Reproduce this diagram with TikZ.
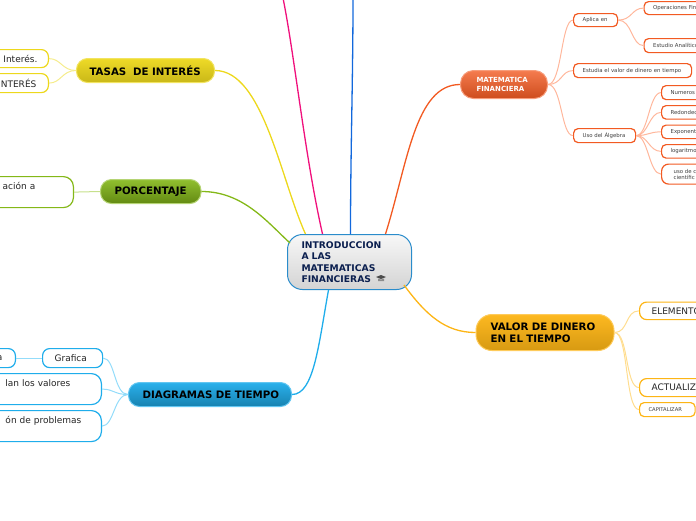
\documentclass[tikz,border=0pt]{standalone}
\usepackage{fontspec}
\setmainfont{DejaVu Sans}
\definecolor{azulcentro}{HTML}{2A8CCB}
\definecolor{tinta}{HTML}{0B1F4F}
\definecolor{naranja}{HTML}{F25A22}
\definecolor{naranjaclaro}{HTML}{FFB79C}
\definecolor{oro}{HTML}{FDB515}
\definecolor{oroclaro}{HTML}{FFDD8F}
\definecolor{amarillo}{HTML}{EDD81C}
\definecolor{amarilloclaro}{HTML}{F5EC8C}
\definecolor{verde}{HTML}{84B818}
\definecolor{verdeclaro}{HTML}{C6E08C}
\definecolor{celeste}{HTML}{1FADEB}
\definecolor{celesteclaro}{HTML}{93DCFA}
\definecolor{rosa}{HTML}{F0107C}
\definecolor{azul}{HTML}{1268DC}
\tikzset{
  tema/.style n args={3}{rounded corners=11pt, draw=#1, line width=1pt,
    top color=#2, bottom color=#3, inner xsep=0pt, inner ysep=0pt, anchor=north west,
    align=left, font=\fontsize{10.25}{12}\selectfont\bfseries, text=black},
  caja/.style={draw=#1, fill=white, line width=1.2pt, rounded corners=4.5pt, inner xsep=0pt,
    inner ysep=0pt, align=left, font=\fontsize{5.4}{7}\selectfont, text=black!75},
  cajagrande/.style={caja=#1, rounded corners=7pt, font=\fontsize{9}{12}\selectfont, text=black!85},
  rama/.style={draw=#1, line width=1.3pt},
  ramita/.style={draw=#1, line width=1pt}
}
\begin{document}
\begin{tikzpicture}[x=1pt, y=-1pt]
  \useasboundingbox (0,0) rectangle (696,520);
  \clip (0,0) rectangle (696,520);
  % extremos libres de las ramas de arriba
  \coordinate (finrosa) at (283,-2);
  \coordinate (finazul) at (353,-2);
  % el centro
  \node[draw=azulcentro, line width=1pt, rounded corners=15pt, top color=black!3, bottom color=black!17,
    anchor=north west, minimum width=124pt, minimum height=55pt, inner xsep=14pt, inner ysep=0pt,
    text width=96pt, align=left, text=tinta, font=\fontsize{9.2}{11.4}\selectfont\bfseries]
    (centro) at (287,234) {INTRODUCCION\\A LAS\\MATEMATICAS\\FINANCIERAS};
  % el birrete
  \fill[black!70] (376,277) -- (381,275) -- (386,277) -- (381,279) -- cycle;
  \fill[black!45] (378,278.5) -- (381,279.6) -- (384,278.5) -- (384,281) -- (378,281) -- cycle;
  % los temas
  \node[tema={naranja!60}{naranja!80!white}{naranja!85!black}, rounded corners=13pt, minimum width=87pt, minimum height=28pt,
    text width=87pt, text=white, font=\fontsize{7}{8.2}\selectfont\bfseries]
    (mate) at (460,70) {\hspace*{16pt}MATEMATICA\\\hspace*{16pt}FINANCIERA};
  \node[tema={oro!70}{oro!95}{oro!85!black}, rounded corners=16pt, minimum width=138pt, minimum height=36pt, text width=138pt]
    (valor) at (475.5,314) {\hspace*{14.5pt}VALOR DE DINERO\\\hspace*{14.5pt}EN EL TIEMPO};
  \node[tema={amarillo!70}{amarillo!95}{amarillo!85!black}, minimum width=138pt, minimum height=24pt, text width=138pt]
    (tasas) at (76,58) {\hspace*{13pt}TASAS\ \ DE INTERÉS};
  \node[tema={verde!60}{verde!90}{verde!75!black}, minimum width=100.5pt, minimum height=24pt, text width=100.5pt]
    (porcentaje) at (100,179) {\hspace*{14pt}PORCENTAJE};
  \node[tema={celeste!70}{celeste!95}{celeste!75!black}, minimum width=163pt, minimum height=24pt, text width=163pt]
    (diagramas) at (128,382) {\hspace*{14pt}DIAGRAMAS DE TIEMPO};
  % hojas de matematica financiera
  \foreach \nombre/\x/\y/\ancho/\alto/\texto in {
      aplica/573/13/44/13/Aplica en,
      estudia/573/63/118/14/Estudia el valor de dinero en tiempo,
      algebra/573/128/62/14/Uso del Álgebra,
      opera/643.5/1/70/13/Operaciones Fin,
      analitico/643.5/38/70/14/Estudio Analítico,
      numeros/661/85/60/14/Numeros,
      redondeo/661/105/60/13.5/Redondeo,
      expo/661/124.5/60/13.5/Exponent,
      loga/661/144/60/13.5/logaritmo}
    \node[caja=naranja, anchor=north west, minimum width=\ancho pt, minimum height=\alto pt,
      text width=\ancho pt] (\nombre) at (\x,\y) {\hspace*{9pt}\texto};
  \node[caja=naranja, rounded corners=7pt, anchor=north west, minimum width=60pt, minimum height=20pt,
    text width=60pt, font=\fontsize{5.4}{6.2}\selectfont] (cientifica) at (661,163.5)
    {\hspace*{12pt}uso de c\\\hspace*{12pt}científic};
  % hojas de valor de dinero
  \node[cajagrande=oro, anchor=north west, minimum width=80pt, minimum height=17.5pt, text width=80pt]
    (elementos) at (639,301.5) {\hspace*{12pt}ELEMENTO};
  \node[cajagrande=oro, anchor=north west, minimum width=80pt, minimum height=18pt, text width=80pt]
    (actualiz) at (639,378) {\hspace*{12pt}ACTUALIZ};
  \node[caja=oro, anchor=north west, minimum width=55.5pt, minimum height=14pt, text width=55.5pt,
    font=\fontsize{5.2}{6}\selectfont] (capital) at (639,402) {\hspace*{9pt}CAPITALIZAR};
  % hojas de la izquierda, cortadas por el borde
  \node[cajagrande=amarillo, anchor=north east, minimum width=80pt, minimum height=18pt, text width=80pt,
    align=right] (interes) at (49,49) {Interés.\hspace*{11pt}\mbox{}};
  \node[cajagrande=amarillo, anchor=north east, minimum width=80pt, minimum height=19pt, text width=80pt,
    align=right] (interesdos) at (49,73) {NTERÉS\hspace*{12pt}\mbox{}};
  \node[cajagrande=verde, rounded corners=10pt, anchor=north east, minimum width=110pt, minimum height=31pt,
    text width=110pt, align=right] (aplicacion) at (74,176) {ación a\hspace*{38pt}\mbox{}\\\ };
  \node[cajagrande=celeste, anchor=north west, minimum width=60pt, minimum height=19pt, text width=60pt]
    (grafica) at (42,348) {\hspace*{12pt}Grafica};
  \node[cajagrande=celeste, anchor=north east, minimum width=60pt, minimum height=19pt, text width=60pt,
    align=right] (grafa) at (16,348) {a\hspace*{13pt}\mbox{}};
  \node[cajagrande=celeste, rounded corners=10pt, anchor=north east, minimum width=150pt, minimum height=31pt,
    text width=150pt, align=right] (valores) at (102,373) {lan los valores\hspace*{31pt}\mbox{}\\\ };
  \node[cajagrande=celeste, rounded corners=10pt, anchor=north east, minimum width=150pt, minimum height=31pt,
    text width=150pt, align=right] (problemas) at (102,410) {ón de problemas\hspace*{20pt}\mbox{}\\\ };
  % ramas del centro
  \draw[rama=rosa] ([xshift=-27pt]centro.north) .. controls +(-18,-80) and +(12,60) .. (finrosa);
  \draw[rama=azul] ([xshift=1pt]centro.north) .. controls +(0,-80) and +(0,80) .. (finazul);
  \draw[rama=amarillo] ([xshift=-44pt]centro.north) .. controls +(-25,-55) and +(48,0) .. (tasas.east);
  \draw[rama=verde] ([xshift=3pt,yshift=-9pt]centro.north west) .. controls +(-22,-20) and +(42,0) .. (porcentaje.east);
  \draw[rama=naranja] ([xshift=36pt]centro.north) .. controls +(22,-70) and +(-45,0) .. (mate.west);
  \draw[rama=oro] ([xshift=-8pt,yshift=5pt]centro.south east) .. controls +(22,30) and +(-30,0) .. (valor.west);
  \draw[rama=celeste] ([xshift=-21pt]centro.south) .. controls +(-10,55) and +(22,0) .. (diagramas.east);
  % ramitas de la derecha
  \foreach \hijo in {aplica,estudia,algebra}
    \draw[ramita=naranjaclaro] (mate.east) .. controls +(14,0) and +(-12,0) .. (\hijo.west);
  \foreach \hijo in {opera,analitico}
    \draw[ramita=naranjaclaro] (aplica.east) .. controls +(14,0) and +(-12,0) .. (\hijo.west);
  \foreach \hijo in {numeros,redondeo,expo,loga,cientifica}
    \draw[ramita=naranjaclaro] (algebra.east) .. controls +(12,0) and +(-12,0) .. (\hijo.west);
  \foreach \hijo in {elementos,actualiz,capital}
    \draw[ramita=oroclaro] (valor.east) .. controls +(14,0) and +(-14,0) .. (\hijo.west);
  % ramitas de la izquierda
  \foreach \hijo in {interes,interesdos}
    \draw[ramita=amarilloclaro] (tasas.west) .. controls +(-14,0) and +(12,0) .. (\hijo.east);
  \draw[ramita=verdeclaro] (porcentaje.west) -- (aplicacion.east);
  \foreach \hijo in {grafica,valores,problemas}
    \draw[ramita=celesteclaro] (diagramas.west) .. controls +(-14,0) and +(12,0) .. (\hijo.east);
  \draw[ramita=celesteclaro] (grafica.west) -- (grafa.east);
\end{tikzpicture}
\end{document}
